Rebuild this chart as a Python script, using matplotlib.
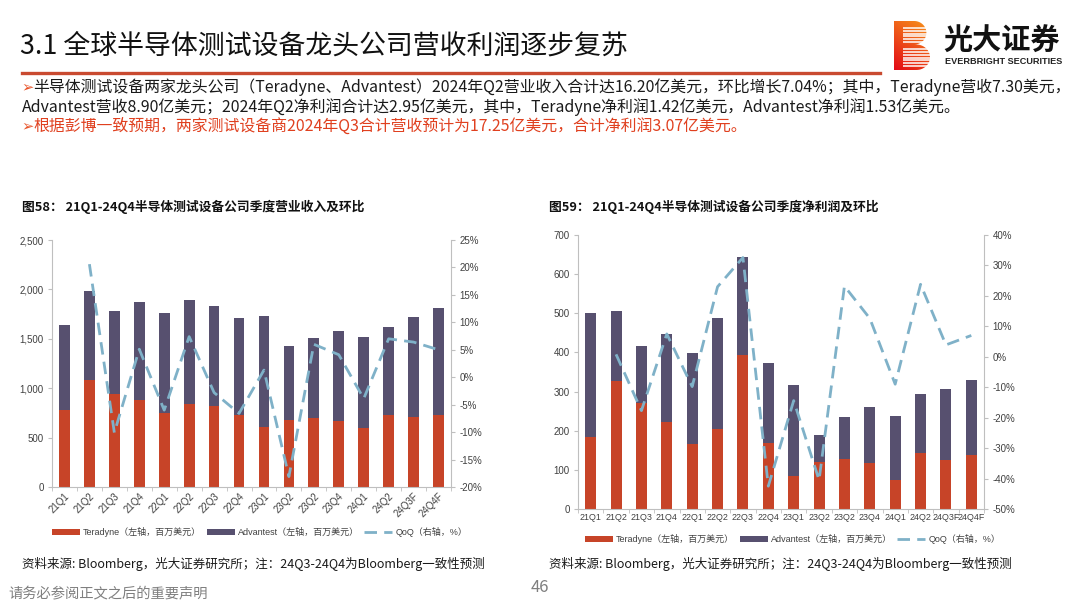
import numpy as np
import matplotlib
matplotlib.use('Agg')
import matplotlib.pyplot as plt
from matplotlib.patches import Patch, PathPatch
from matplotlib.lines import Line2D
from matplotlib.path import Path

plt.rcParams['font.family'] = ['Liberation Sans', 'Noto Sans CJK SC', 'DejaVu Sans']
CJK = ['Noto Sans CJK SC', 'DejaVu Sans']

# ---------------- данные ----------------
quarters = ['21Q1', '21Q2', '21Q3', '21Q4', '22Q1', '22Q2', '22Q3', '22Q4',
            '23Q1', '23Q2', '23Q2', '23Q4', '24Q1', '24Q2', '24Q3F', '24Q4F']

# выручка, млн долл.
rev_teradyne = [777, 1081, 946, 882, 750, 838, 824, 726, 611, 679, 699, 666, 595, 730, 706, 726]
rev_advantest = [863, 899, 834, 988, 1015, 1052, 1011, 986, 1122, 747, 811, 908, 922, 890, 1019, 1081]
rev_qoq = [np.nan, 20.6, -10.1, 5.1, -6.0, 7.4, -2.8, -6.6, 1.3, -18.1, 6.0, 4.1, -3.9, 7.0, 6.4, 5.0]

# чистая прибыль, млн долл.
np_teradyne = [184, 326, 270, 221, 165, 204, 393, 169, 85, 121, 129, 117, 75, 142, 126, 138]
np_advantest = [318, 179, 146, 226, 234, 284, 252, 204, 233, 69, 105, 144, 163, 153, 181, 192]
np_qoq = [np.nan, 0.8, -17.7, 7.5, -9.8, 23.0, 32.6, -42.5, -14.4, -40.5, 23.2, 12.6, -9.0, 23.8, 3.9, 7.0]

RED = '#C74428'
PURPLE = '#57506F'
BLUE = '#7FB1C8'
GRID = '#BFBFBF'
TXT = '#404040'

W, H = 1080, 608


def fx(x):
    return x / W


def fy(y):
    return 1 - y / H


fig = plt.figure(figsize=(10.8, 6.08), dpi=100)

# ---------------- шапка ----------------
fig.text(fx(20), fy(46), '3.1 全球半导体测试设备龙头公司营收利润逐步复苏',
         family=CJK, fontsize=19.4, color='#111111', va='center', ha='left')
fig.add_artist(Line2D([fx(22), fx(880)], [fy(73), fy(73)], color='#C94A30', lw=2.4))

bul = '\u27A2'
fig.text(fx(21), fy(87), bul, family=['DejaVu Sans'], fontsize=10.5, color='#E8542A', va='center')
fig.text(fx(33), fy(87), '半导体测试设备两家龙头公司（Teradyne、Advantest）2024年Q2营业收入合计达16.20亿美元，环比增长7.04%；其中，Teradyne营收7.30美元，',
         family=CJK, fontsize=11.45, color='#1a1a1a', va='center')
fig.text(fx(22), fy(107), 'Advantest营收8.90亿美元；2024年Q2净利润合计达2.95亿美元，其中，Teradyne净利润1.42亿美元，Advantest净利润1.53亿美元。',
         family=CJK, fontsize=11.45, color='#1a1a1a', va='center')
fig.text(fx(21), fy(126), bul, family=['DejaVu Sans'], fontsize=10.5, color='#E8542A', va='center')
fig.text(fx(33), fy(126), '根据彭博一致预期，两家测试设备商2024年Q3合计营收预计为17.25亿美元，合计净利润3.07亿美元。',
         family=CJK, fontsize=11.45, color='#E0401F', va='center')

# логотип
lax = fig.add_axes([fx(894), fy(70), fx(930) - fx(894), (70 - 21) / H])
lax.set_xlim(0, 1)
lax.set_ylim(0, 1)
lax.axis('off')
t = np.linspace(-np.pi / 2, np.pi / 2, 40)
low = np.c_[0.62 + 0.38 * np.cos(t), 0.26 + 0.26 * np.sin(t)]
up = np.c_[0.56 + 0.34 * np.cos(t), 0.76 + 0.24 * np.sin(t)]
verts = np.vstack([[[0, 0]], low, [[0.56, 0.52]], up, [[0, 1], [0, 0]]])
bpath = Path(verts)
gx, gy = np.meshgrid(np.linspace(0, 1, 50), np.linspace(0, 1, 50))
grad = np.clip(0.65 * gy + 0.35 * gx, 0, 1)
cmap = matplotlib.colors.LinearSegmentedColormap.from_list('b', ['#E30B17', '#F7961C'])
img = lax.imshow(grad, cmap=cmap, extent=[0, 1, 0, 1], origin='lower', aspect='auto')
clip = PathPatch(bpath, transform=lax.transData, facecolor='none', edgecolor='none')
lax.add_patch(clip)
img.set_clip_path(clip)
for yy in list(np.arange(0.08, 0.47, 0.058)) + list(np.arange(0.57, 0.87, 0.058)):
    lax.plot([0.24, 1.05], [yy, yy], color='white', lw=1.1, solid_capstyle='butt')

fig.text(fx(943), fy(41), '光大证券', family=CJK, fontsize=21, weight='bold', color='#111111', va='center')
fig.text(fx(945), fy(62), 'EVERBRIGHT SECURITIES', family=['Liberation Sans'], fontsize=6.6,
         weight='bold', color='#222222', va='center')


# ---------------- графики ----------------
def draw_panel(rect, ter, adv, qoq, ymax, ystep, qlim, qstep, rotate, xsize):
    ax = fig.add_axes(rect)
    x = np.arange(len(quarters))
    ax.bar(x, ter, width=0.43, color=RED, zorder=2)
    ax.bar(x, adv, width=0.43, bottom=ter, color=PURPLE, zorder=2)
    ax.set_xlim(-0.5, len(quarters) - 0.5)
    ax.set_ylim(0, ymax)
    ax.set_yticks(np.arange(0, ymax + 1, ystep))
    ax.yaxis.set_major_formatter(matplotlib.ticker.FuncFormatter(lambda v, p: f'{v:,.0f}'))
    ax.set_xticks(x)
    ax.set_xticklabels(quarters)
    ax.set_xticks(np.arange(-0.5, len(quarters), 1), minor=True)
    ax.tick_params(axis='x', which='major', length=0, labelsize=xsize, colors=TXT, pad=3)
    ax.tick_params(axis='x', which='minor', length=3, color=GRID)
    ax.tick_params(axis='y', length=3, color=GRID, labelsize=7, labelcolor=TXT, pad=3)
    if rotate:
        for lab in ax.get_xticklabels():
            lab.set_rotation(45)
            lab.set_ha('right')
            lab.set_va('top')
            lab.set_rotation_mode('anchor')
    for s in ['top', 'right']:
        ax.spines[s].set_visible(False)
    for s in ['left', 'bottom']:
        ax.spines[s].set_color(GRID)

    ax2 = ax.twinx()
    ax2.plot(x, qoq, color=BLUE, lw=2.0, dashes=(4.5, 2.6), zorder=3)
    ax2.set_ylim(*qlim)
    ax2.set_yticks(np.arange(qlim[0], qlim[1] + 1, qstep))
    ax2.yaxis.set_major_formatter(matplotlib.ticker.FuncFormatter(lambda v, p: f'{v:.0f}%'))
    ax2.tick_params(axis='y', length=3, color=GRID, labelsize=7, labelcolor=TXT, pad=3)
    for s in ['top', 'left', 'bottom']:
        ax2.spines[s].set_visible(False)
    ax2.spines['right'].set_color(GRID)
    return ax


axL = draw_panel([fx(52), fy(487), fx(451) - fx(52), (487 - 240) / H],
                 rev_teradyne, rev_advantest, rev_qoq, 2500, 500, (-20, 25), 5, True, 7)
axR = draw_panel([fx(578), fy(509), fx(984) - fx(578), (509 - 235) / H],
                 np_teradyne, np_advantest, np_qoq, 700, 100, (-50, 40), 10, False, 6.4)

handles = [Patch(facecolor=RED), Patch(facecolor=PURPLE),
           Line2D([], [], color=BLUE, lw=2.0, dashes=(4.5, 2.6))]
labels = ['Teradyne（左轴，百万美元）', 'Advantest（左轴，百万美元）', 'QoQ（右轴，%）']
for ax, lx, ly in [(axL, 52, 532), (axR, 585, 539)]:
    ax.legend(handles, labels, loc='center left', bbox_to_anchor=(fx(lx), fy(ly)),
              bbox_transform=fig.transFigure, ncol=3, frameon=False, fontsize=6.5,
              handlelength=3.1, handleheight=0.55, handletextpad=0.35, columnspacing=0.6,
              borderpad=0, borderaxespad=0, labelcolor=TXT)

fig.text(fx(22), fy(207), '图58： 21Q1-24Q4半导体测试设备公司季度营业收入及环比',
         family=CJK, fontsize=9.2, weight='bold', color='#111111', va='center')
fig.text(fx(549), fy(207), '图59： 21Q1-24Q4半导体测试设备公司季度净利润及环比',
         family=CJK, fontsize=9.2, weight='bold', color='#111111', va='center')

src = '资料来源: Bloomberg，光大证券研究所；注：24Q3-24Q4为Bloomberg一致性预测'
fig.text(fx(22), fy(564), src, family=CJK, fontsize=9, color='#1a1a1a', va='center')
fig.text(fx(549), fy(564), src, family=CJK, fontsize=9, color='#1a1a1a', va='center')

fig.text(fx(540), fy(587), '46', family=CJK, fontsize=12, color='#7f7f7f', va='center', ha='center')
fig.text(fx(8), fy(594), '请务必参阅正文之后的重要声明', family=CJK, fontsize=10.3, color='#7f7f7f', va='center')

fig.savefig('out.png', dpi=100)
